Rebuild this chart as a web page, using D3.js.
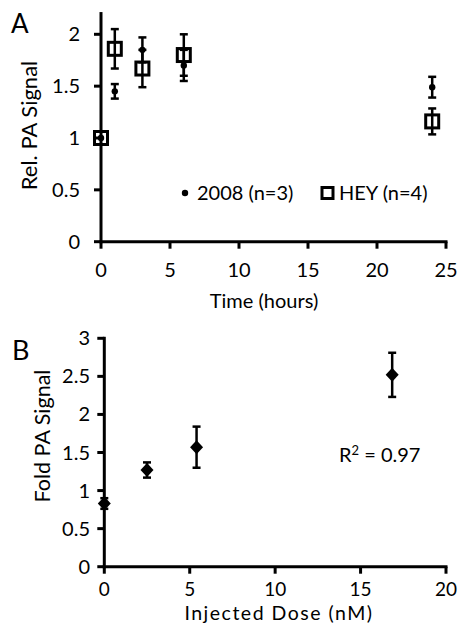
<!DOCTYPE html>
<html>
<head>
<meta charset="utf-8">
<script src="https://cdn.jsdelivr.net/npm/d3@7"></script>
<style>
body { margin: 0; background: #fff; }
text { font-family: Lato, 'Noto Sans', sans-serif; fill: #000; }
</style>
</head>
<body>
<div id="chart"></div>
<script>
// panel A: time course
let hours = [0, 1, 3, 6, 24]
let sig2008 = [1.0, 1.45, 1.85, 1.70, 1.49]
let err2008 = [0, 0.07, 0.12, 0.15, 0.10]
let sigHEY = [1.0, 1.86, 1.67, 1.80, 1.16]
let errHEY = [0, 0.19, 0.18, 0.20, 0.125]
let ticksA_x = [0, 5, 10, 15, 20, 25]
let ticksA_y = [0, 0.5, 1, 1.5, 2]

// panel B: dose
let dose = [0, 2.5, 5.4, 16.85]
let fold = [0.83, 1.27, 1.57, 2.52]
let foldErr = [0.07, 0.1, 0.27, 0.29]
let ticksB_x = [0, 5, 10, 15, 20]
let ticksB_y = [0, 0.5, 1, 1.5, 2, 2.5, 3]

let W = 460, H = 624
let axisW = 3
let fs = 20

let svg = d3.select('#chart').append('svg')
	.attr('width', W)
	.attr('height', H)

svg.append('rect').attr('width', W).attr('height', H).attr('fill', '#fff')

let drawAxes = (g, x, y, xt, yt, labDy, labFs) => {
	let xr = x.range(), yr = y.range()
	// ticks
	g.selectAll('.xt').data(xt).enter().append('line')
		.attr('x1', d => x(d)).attr('x2', d => x(d))
		.attr('y1', yr[0]).attr('y2', yr[0] + 7)
		.attr('stroke', '#000').attr('stroke-width', axisW)
	g.selectAll('.yt').data(yt).enter().append('line')
		.attr('x1', xr[0] - 7).attr('x2', xr[0])
		.attr('y1', d => y(d)).attr('y2', d => y(d))
		.attr('stroke', '#000').attr('stroke-width', axisW)
	g.append('line')
		.attr('x1', xr[0]).attr('x2', xr[1])
		.attr('y1', yr[0]).attr('y2', yr[0])
		.attr('stroke', '#000').attr('stroke-width', axisW)
		.attr('stroke-linecap', 'square')
	g.append('line')
		.attr('x1', xr[0]).attr('x2', xr[0])
		.attr('y1', yr[0]).attr('y2', yr[1])
		.attr('stroke', '#000').attr('stroke-width', axisW)
		.attr('stroke-linecap', 'square')
	g.selectAll('.xl').data(xt).enter().append('text')
		.attr('x', d => x(d)).attr('y', yr[0] + labDy)
		.attr('text-anchor', 'middle')
		.attr('font-size', labFs)
		.text(d => d)
}

let errBars = (g, xs, ys, es, x, y) => {
	let d = xs.map((v, i) => ({ x: v, y: ys[i], e: es[i] })).filter(d => d.e > 0)
	g.selectAll(null).data(d).enter().append('line')
		.attr('x1', d => x(d.x)).attr('x2', d => x(d.x))
		.attr('y1', d => y(d.y - d.e)).attr('y2', d => y(d.y + d.e))
		.attr('stroke', '#000').attr('stroke-width', 2.5)
	let caps = []
	d.forEach(p => { caps.push({ x: p.x, y: p.y - p.e }); caps.push({ x: p.x, y: p.y + p.e }) })
	g.selectAll(null).data(caps).enter().append('line')
		.attr('x1', d => x(d.x) - 4).attr('x2', d => x(d.x) + 4)
		.attr('y1', d => y(d.y)).attr('y2', d => y(d.y))
		.attr('stroke', '#000').attr('stroke-width', 2.5)
}

// ---- panel A
let xA = d3.scaleLinear().domain([0, 25]).range([101, 446])
let yA = d3.scaleLinear().domain([0, 2.2]).range([241.7, 241.7 - 2.2 * 103.7])
let gA = svg.append('g')
drawAxes(gA, xA, yA, ticksA_x, ticksA_y, 35.5, fs)
gA.selectAll('.yl').data(ticksA_y).enter().append('text')
	.attr('x', 80).attr('y', d => yA(d) + 7)
	.attr('text-anchor', 'end').attr('font-size', fs)
	.text(d => d)

errBars(gA, hours, sigHEY, errHEY, xA, yA)
errBars(gA, hours, sig2008, err2008, xA, yA)

gA.selectAll('.dot').data(hours).enter().append('circle')
	.attr('cx', d => xA(d)).attr('cy', (d, i) => yA(sig2008[i]))
	.attr('r', 3.2).attr('fill', '#000')
gA.selectAll('.sq').data(hours).enter().append('rect')
	.attr('x', d => xA(d) - 6.5).attr('y', (d, i) => yA(sigHEY[i]) - 6.5)
	.attr('width', 13).attr('height', 13)
	.attr('fill', 'none').attr('stroke', '#000').attr('stroke-width', 3)

// legend
gA.append('circle').attr('cx', 185).attr('cy', 193).attr('r', 3.2).attr('fill', '#000')
gA.append('text').attr('x', 197).attr('y', 199.5).attr('font-size', fs).text('2008 (n=3)')
gA.append('rect').attr('x', 322).attr('y', 187.5).attr('width', 11).attr('height', 11)
	.attr('fill', 'none').attr('stroke', '#000').attr('stroke-width', 3)
gA.append('text').attr('x', 339).attr('y', 199.5).attr('font-size', fs).text('HEY (n=4)')

gA.append('text').attr('x', 264).attr('y', 308).attr('text-anchor', 'middle')
	.attr('font-size', 20).text('Time (hours)')
gA.append('text').attr('transform', 'translate(37,125.5) rotate(-90)')
	.attr('text-anchor', 'middle').attr('font-size', 22).text('Rel. PA Signal')
gA.append('text').attr('x', 11).attr('y', 33).attr('font-size', 26).text('A')

// ---- panel B
let xB = d3.scaleLinear().domain([0, 20]).range([104.3, 446])
let yB = d3.scaleLinear().domain([0, 3]).range([566.7, 338.3])
let gB = svg.append('g')
drawAxes(gB, xB, yB, ticksB_x, ticksB_y, 29.5, 19)
gB.selectAll('.yl').data(ticksB_y).enter().append('text')
	.attr('x', 90).attr('y', d => yB(d) + 7)
	.attr('text-anchor', 'end').attr('font-size', fs)
	.text(d => d)

errBars(gB, dose, fold, foldErr, xB, yB)
gB.selectAll('.dia').data(dose).enter().append('path')
	.attr('transform', (d, i) => `translate(${xB(d)},${yB(fold[i])})`)
	.attr('d', 'M0,-7L6.5,0L0,7L-6.5,0Z')
	.attr('fill', '#000')

let r2 = gB.append('text').attr('x', 339).attr('y', 461.5).attr('font-size', fs)
r2.append('tspan').text('R')
r2.append('tspan').attr('font-size', 13).attr('dy', -7).text('2')
r2.append('tspan').attr('dy', 7).text(' = 0.97')

gB.append('text').attr('x', 279).attr('y', 619.5).attr('text-anchor', 'middle')
	.attr('font-size', 19.5).attr('letter-spacing', 1.5).text('Injected Dose (nM)')
gB.append('text').attr('transform', 'translate(50,436) rotate(-90)')
	.attr('text-anchor', 'middle').attr('font-size', 21.5).text('Fold PA Signal')
gB.append('text').attr('x', 12).attr('y', 360).attr('font-size', 27).text('B')
</script>
</body>
</html>
